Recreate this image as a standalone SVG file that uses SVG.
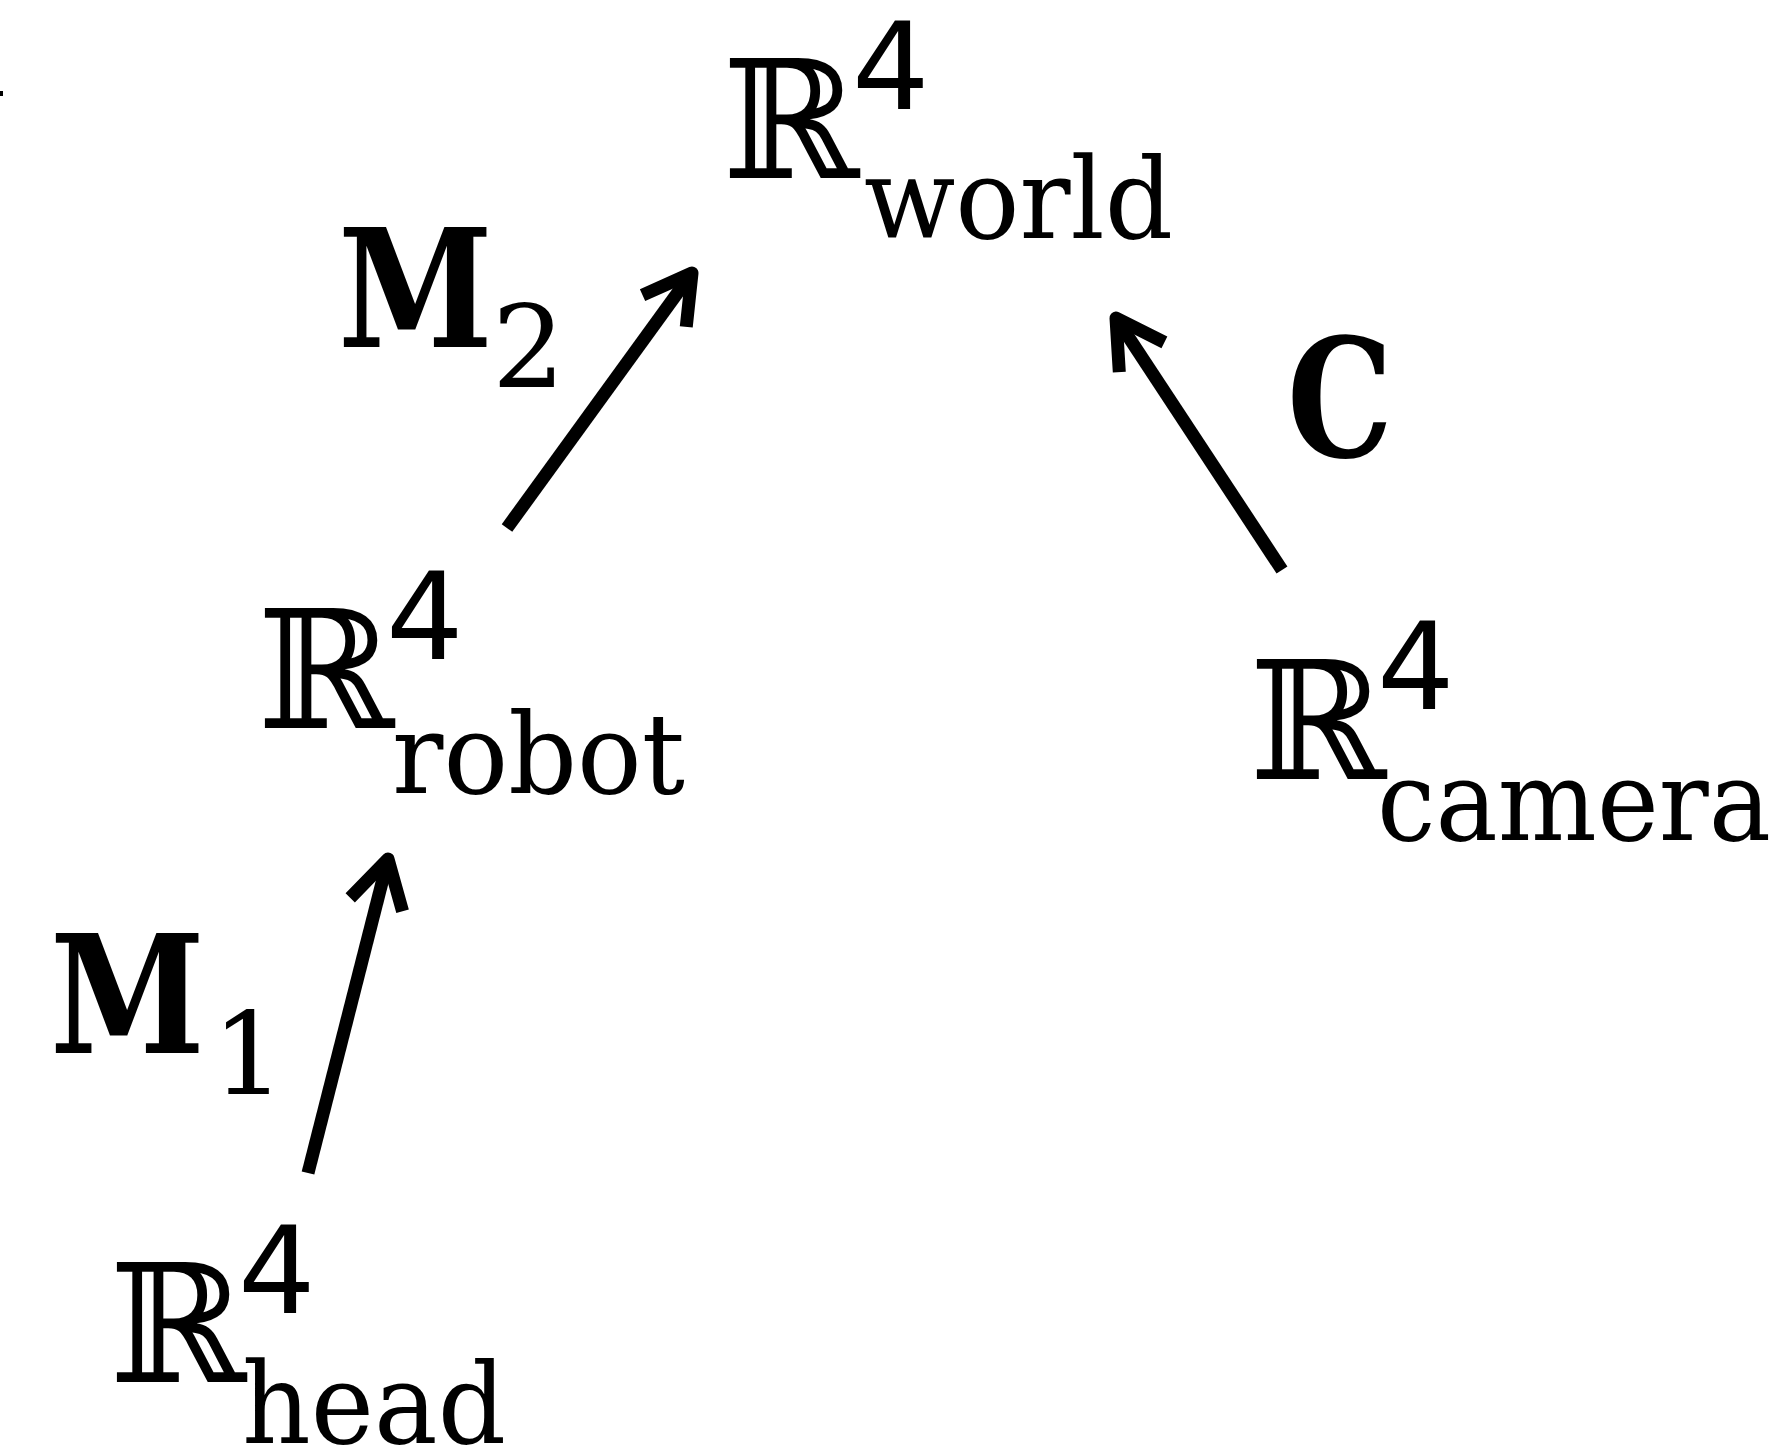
<svg xmlns="http://www.w3.org/2000/svg" width="1788" height="1453" viewBox="0 0 1788 1453">
  <style>
    .bb { font-family: "DejaVu Serif", "Liberation Serif", serif; font-size: 165px; fill: #000; }
    .sup { font-family: "DejaVu Sans", "Liberation Sans", sans-serif; font-size: 122px; fill: #000; }
    .sub { font-family: "DejaVu Serif", "Liberation Serif", serif; font-size: 112px; fill: #000; }
    .mat { font-family: "DejaVu Serif", "Liberation Serif", serif; font-size: 165px; font-weight: bold; fill: #000; }
    .idx { font-family: "DejaVu Serif", "Liberation Serif", serif; font-size: 115px; fill: #000; }
    .edge { fill: none; stroke: #000; stroke-width: 13; stroke-linejoin: round; }
  </style>
  <defs>
    <!-- open chevron arrowhead, drawn in user units so all arrows share one size -->
    <marker id="head" markerUnits="userSpaceOnUse" orient="auto" viewBox="-60 -40 80 80" refX="0" refY="0" markerWidth="80" markerHeight="80" overflow="visible">
      <path d="M -47 -27 L 0 0 L -47 27" fill="none" stroke="#000" stroke-width="13" stroke-linejoin="round"/>
    </marker>
  </defs>
  <rect width="1788" height="1453" fill="#fff"/>
  <rect x="0" y="91" width="3" height="5" fill="#000"/>

  <g id="connectors">
    <path class="edge" d="M 507 528 L 692 273" marker-end="url(#head)"/>
    <path class="edge" d="M 1282 570 L 1116 318" marker-end="url(#head)"/>
    <path class="edge" d="M 308 1173 L 388 859" marker-end="url(#head)"/>
  </g>

  <g id="world">
    <text class="bb" x="722" y="178">ℝ</text>
    <text class="sup" x="852" y="109">4</text>
    <text class="sub" x="864" y="238" textLength="309" lengthAdjust="spacingAndGlyphs">world</text>
  </g>
  <g id="robot">
    <text class="bb" x="257" y="728">ℝ</text>
    <text class="sup" x="386" y="659">4</text>
    <text class="sub" x="392" y="793" textLength="293" lengthAdjust="spacingAndGlyphs">robot</text>
  </g>
  <g id="camera">
    <text class="bb" x="1249" y="779">ℝ</text>
    <text class="sup" x="1377" y="709">4</text>
    <text class="sub" x="1377" y="840" textLength="394" lengthAdjust="spacingAndGlyphs">camera</text>
  </g>
  <g id="head-frame">
    <text class="bb" x="109" y="1382">ℝ</text>
    <text class="sup" x="238" y="1313">4</text>
    <text class="sub" x="242" y="1443" textLength="264" lengthAdjust="spacingAndGlyphs">head</text>
  </g>
  <g id="label-m2">
    <text class="mat" x="338" y="347" textLength="155" lengthAdjust="spacingAndGlyphs">M</text>
    <text class="idx" x="492" y="387">2</text>
  </g>
  <g id="label-m1">
    <text class="mat" x="50" y="1053" textLength="155" lengthAdjust="spacingAndGlyphs">M</text>
    <text class="idx" x="212" y="1094">1</text>
  </g>
  <g id="label-c">
    <text class="mat" x="1287" y="457" textLength="106" lengthAdjust="spacingAndGlyphs">C</text>
  </g>
</svg>
